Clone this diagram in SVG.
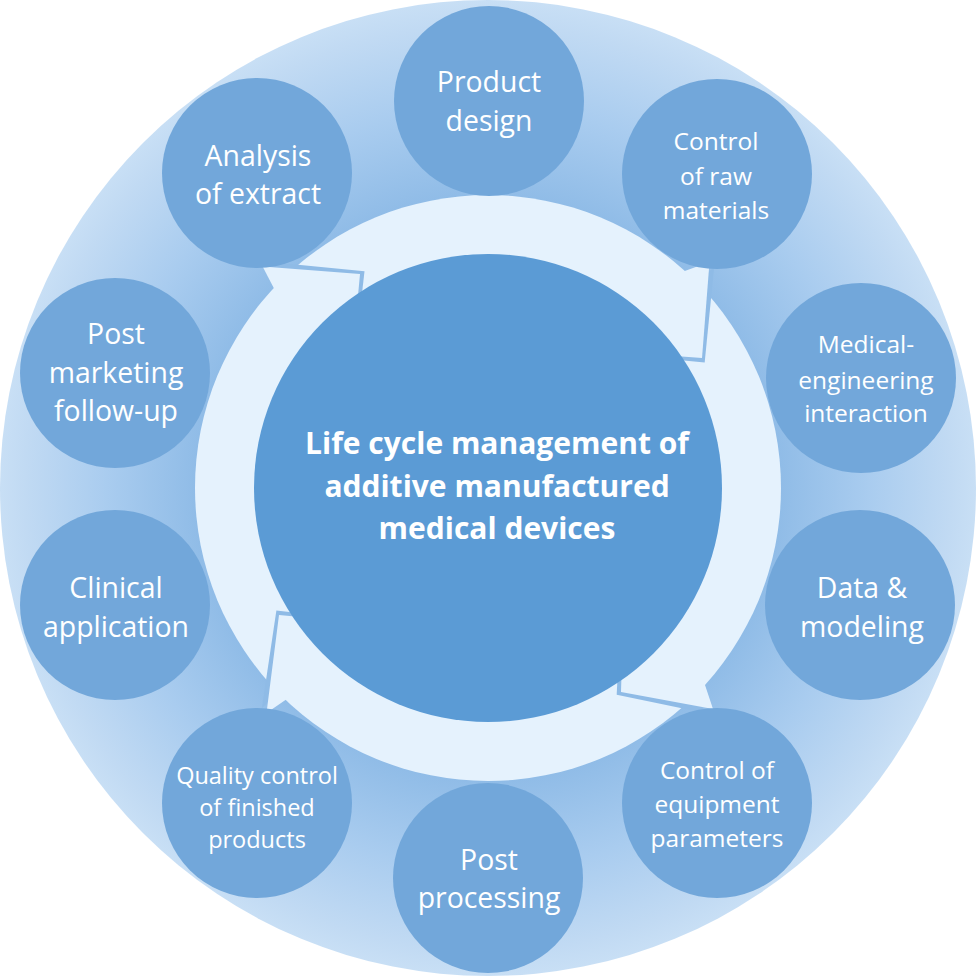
<svg xmlns="http://www.w3.org/2000/svg" width="976" height="977" viewBox="0 0 976 977">
<defs>
<radialGradient id="bg" cx="488" cy="488" r="488" gradientUnits="userSpaceOnUse">
<stop offset="0" stop-color="#84b5e4"/>
<stop offset="0.6" stop-color="#90bce7"/>
<stop offset="0.78" stop-color="#a9ccef"/>
<stop offset="0.95" stop-color="#c1daf3"/>
<stop offset="1" stop-color="#c8dff5"/>
</radialGradient>
<style>
.node{fill:#72a7da}
.t{fill:#ffffff;font-family:"Open Sans","Liberation Sans",sans-serif;text-anchor:middle;dominant-baseline:central}
.big{font-size:28.4px}
.mid{font-size:24.5px}
.sm{font-size:23.5px}
.ctr{font-size:30px;font-weight:bold}
.head{fill:#e5f2fd}
.shadow{fill:#8fbbe6}
</style>
</defs>
<circle cx="488" cy="488" r="488" fill="url(#bg)"/>
<g id="connectors">
<circle cx="488" cy="488" r="293" fill="#e5f2fd"/>
<g transform="rotate(1.2 488 488)">
<polygon class="shadow" points="709.5,262 702,358 621,352"/>
<polygon class="shadow" points="713,709 621,692 623,621"/>
<polygon class="shadow" points="266.5,713 279,615 354,622"/>
<polygon class="shadow" points="262.6,266.5 360,274 352.5,354.8"/>
</g>
<polygon class="head" points="709.5,262 702,358 621,352 600,320 660,280"/>
<polygon class="head" points="713,709 621,692 623,621 660,600 690,640"/>
<polygon class="head" points="266.5,713 279,615 354,622 360,660 300,690"/>
<polygon class="head" points="262.6,266.5 360,274 352.5,354.8 320,360 280,300"/>
</g>
<g id="center">
<circle cx="488" cy="488" r="234" fill="#5b9bd5"/>
<text class="t ctr" x="497" y="442">Life cycle management of</text>
<text class="t ctr" x="497" y="485">additive manufactured</text>
<text class="t ctr" x="497" y="527">medical devices</text>
</g>
<g id="product-design">
<circle class="node" cx="489" cy="101" r="95"/>
<text class="t big" x="489" y="81">Product</text>
<text class="t big" x="489" y="120">design</text>
</g>
<g id="control-raw">
<circle class="node" cx="717" cy="174" r="95"/>
<text class="t mid" x="716" y="140">Control</text>
<text class="t mid" x="716" y="175">of raw</text>
<text class="t mid" x="716" y="209">materials</text>
</g>
<g id="medical-engineering">
<circle class="node" cx="861" cy="378" r="95"/>
<text class="t mid" x="866" y="343">Medical-</text>
<text class="t mid" x="866" y="379">engineering</text>
<text class="t mid" x="866" y="412">interaction</text>
</g>
<g id="data-modeling">
<circle class="node" cx="860" cy="605" r="95"/>
<text class="t big" x="862" y="587">Data &amp;</text>
<text class="t big" x="862" y="626">modeling</text>
</g>
<g id="control-equipment">
<circle class="node" cx="717" cy="803" r="95"/>
<text class="t mid" x="717" y="769">Control of</text>
<text class="t mid" x="717" y="803">equipment</text>
<text class="t mid" x="717" y="837">parameters</text>
</g>
<g id="post-processing">
<circle class="node" cx="488" cy="878" r="95"/>
<text class="t big" x="489" y="859">Post</text>
<text class="t big" x="489" y="897">processing</text>
</g>
<g id="quality-control">
<circle class="node" cx="257" cy="803" r="95"/>
<text class="t sm" x="257" y="775">Quality control</text>
<text class="t sm" x="257" y="807">of finished</text>
<text class="t sm" x="257" y="839">products</text>
</g>
<g id="clinical-application">
<circle class="node" cx="115" cy="605" r="95"/>
<text class="t big" x="116" y="587">Clinical</text>
<text class="t big" x="116" y="626">application</text>
</g>
<g id="post-marketing">
<circle class="node" cx="115" cy="373" r="95"/>
<text class="t big" x="116" y="333">Post</text>
<text class="t big" x="116" y="372">marketing</text>
<text class="t big" x="116" y="410">follow-up</text>
</g>
<g id="analysis-extract">
<circle class="node" cx="257" cy="173" r="95"/>
<text class="t big" x="258" y="155">Analysis</text>
<text class="t big" x="258" y="193">of extract</text>
</g>
</svg>
